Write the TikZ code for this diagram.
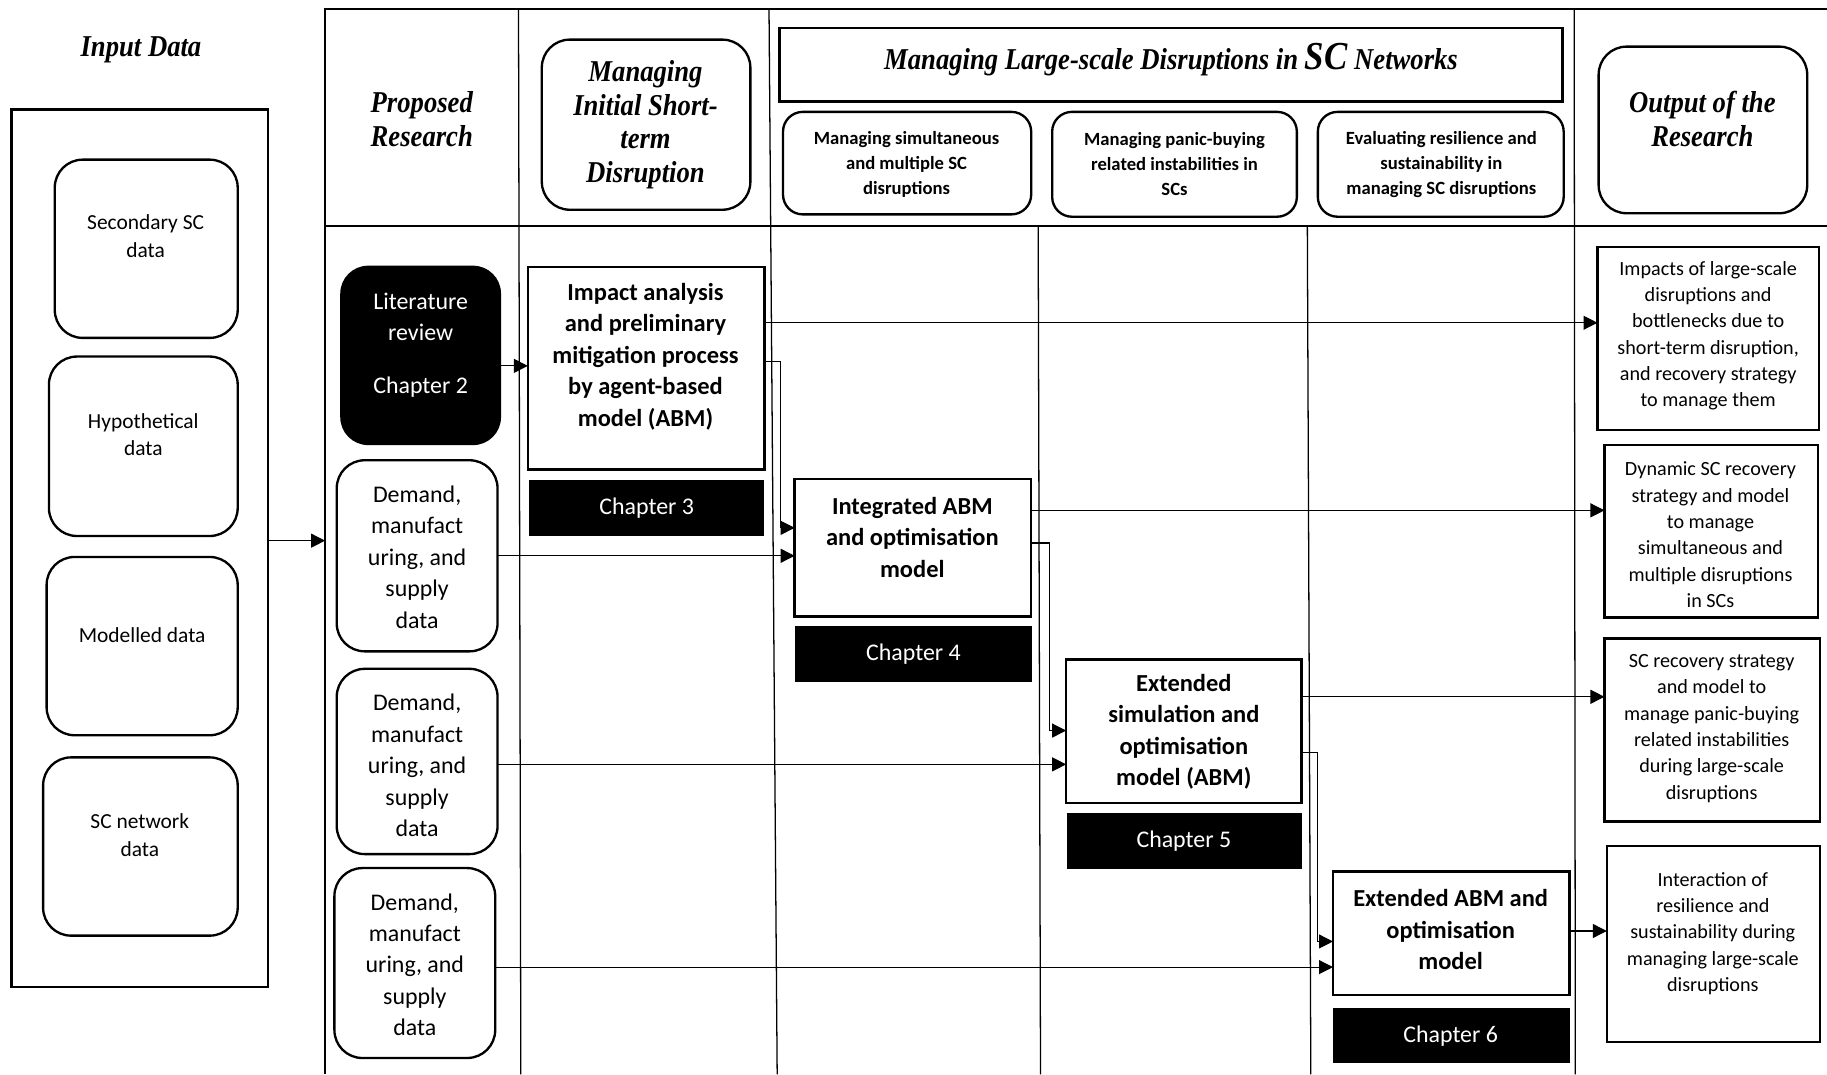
\documentclass[tikz,border=0pt]{standalone}
\usepackage{fontspec}
\setmainfont{Carlito}
\newfontfamily\headfont{Liberation Serif}[FakeStretch=0.88]
\usetikzlibrary{arrows.meta}

% box given by its top-left and bottom-right corners
\newcommand\BoxAt[6]{%
  \pgfmathsetmacro\bw{#5-#3}%
  \pgfmathsetmacro\bh{#6-#4}%
  \node[#2, minimum width=\bw pt, minimum height=\bh pt] (#1) at ({(#3+#5)/2},{(#4+#6)/2}) {};}

\tikzset{
  every node/.style={inner sep=0pt, outer sep=0pt},
  frameline/.style={line width=2pt},
  gridline/.style={line width=1.1pt},
  sbox/.style={draw, fill=white, line width=2pt},
  rbox/.style={draw, fill=white, line width=2pt, rounded corners=24pt},
  hbox/.style={draw, fill=white, line width=2pt, rounded corners=17pt},
  litbox/.style={fill=black, rounded corners=24pt},
  chap/.style={fill=black, text=white, font=\fontsize{20.5}{24}\selectfont},
  headtxt/.style={font=\headfont\bfseries\itshape\fontsize{26}{29}\selectfont, align=center},
  subtxt/.style={font=\bfseries\fontsize{16}{21.5}\selectfont, align=center},
  intxt/.style={font=\fontsize{18.4}{24}\selectfont, align=center},
  demtxt/.style={font=\fontsize{20.5}{27}\selectfont, align=center},
  modtxt/.style={font=\bfseries\fontsize{21}{27}\selectfont, align=center},
  outtxt/.style={font=\fontsize{17.3}{22.6}\selectfont, align=center},
  arr/.style={line width=1pt, -{Triangle[length=12pt,width=12pt]}},
}

\begin{document}
\begin{tikzpicture}[x=1pt,y=-1pt]
\useasboundingbox (0,0) rectangle (1568,922);

% swimlane frame and column rules
\draw[frameline] (279,922) -- (279,8) -- (1568,8);
\draw[gridline] (279,194) -- (1568,194);
\draw[gridline] (445,8) -- (447,922);
\draw[gridline] (660,8) -- (667,922);
\draw[gridline] (891,194) -- (893,922);
\draw[gridline] (1122,194) -- (1125,922);
\draw[gridline] (1351,8) -- (1352,922);

% input data column
\node[headtxt] (inTitle) at (121,43) {Input Data};
\BoxAt{inB}{sbox}{10}{94}{230}{847}
\BoxAt{secB}{rbox}{47}{137}{204}{290}
\node[intxt] (secT) at (125,203) {Secondary SC\\data};
\BoxAt{hypB}{rbox}{42}{306}{204}{460}
\node[intxt] (hypT) at (123,373) {Hypothetical\\data};
\BoxAt{modB}{rbox}{40}{478}{204}{631}
\node[intxt] (modT) at (122,545) {Modelled data};
\BoxAt{netB}{rbox}{37}{650}{204}{803}
\node[intxt] (netT) at (120,717) {SC network\\data};
\coordinate (frameIn) at (279,464);

% column headings
\node[headtxt] (propT) at (362,102) {Proposed\\Research};
\BoxAt{initB}{rbox}{465}{34}{644}{180}
\node[headtxt] (initT) at (554,107) {Managing\\Initial Short-\\term\\Disruption};
\BoxAt{largeB}{sbox}{669}{24}{1341}{87}
\node[headtxt] (largeT) at (1005,51) {Managing Large-scale Disruptions in {\fontsize{34}{34}\selectfont SC} Networks};
\BoxAt{subA}{hbox}{672}{96}{885}{184}
\node[subtxt] (subAT) at (778,141) {Managing simultaneous\\and multiple SC\\disruptions};
\BoxAt{subB}{hbox}{903}{96}{1113}{186}
\node[subtxt] (subBT) at (1008,141) {Managing panic-buying\\related instabilities in\\SCs};
\BoxAt{subC}{hbox}{1131}{96}{1342}{186}
\node[subtxt] (subCT) at (1237,141) {Evaluating resilience and\\sustainability in\\managing SC disruptions};
\BoxAt{outB}{rbox}{1372}{40}{1551}{183}
\node[headtxt] (outT) at (1461,102) {Output of the\\Research};

% proposed research column
\BoxAt{litB}{litbox}{292}{228}{430}{382}
\node[demtxt, text=white] (litT) at (361,296) {Literature\\review\\[18pt]Chapter 2};
\BoxAt{demA}{rbox}{289}{395}{427}{559}
\node[demtxt] (demAT) at (358,478) {Demand,\\manufact\\uring, and\\supply\\data};
\BoxAt{demB}{rbox}{289}{574}{427}{733}
\node[demtxt] (demBT) at (358,657) {Demand,\\manufact\\uring, and\\supply\\data};
\BoxAt{demC}{rbox}{287}{745}{425}{908}
\node[demtxt] (demCT) at (356,828) {Demand,\\manufact\\uring, and\\supply\\data};

% model boxes with chapter tags
\BoxAt{impB}{sbox}{453}{229}{656}{403}
\node[modtxt] (impT) at (554,306) {Impact analysis\\and preliminary\\mitigation process\\by agent-based\\model (ABM)};
\BoxAt{ch3}{chap}{454}{412}{656}{460}
\node[chap] (ch3T) at (555,436) {Chapter 3};

\BoxAt{intB}{sbox}{682}{411}{885}{529}
\node[modtxt] (intT) at (783,461) {Integrated ABM\\and optimisation\\model};
\BoxAt{ch4}{chap}{682}{537}{886}{585}
\node[chap] (ch4T) at (784,561) {Chapter 4};

\BoxAt{simB}{sbox}{915}{566}{1117}{689}
\node[modtxt] (simT) at (1016,628) {Extended\\simulation and\\optimisation\\model (ABM)};
\BoxAt{ch5}{chap}{916}{698}{1117}{746}
\node[chap] (ch5T) at (1016,722) {Chapter 5};

\BoxAt{extB}{sbox}{1144}{748}{1347}{854}
\node[modtxt] (extT) at (1245,798) {Extended ABM and\\optimisation\\model};
\BoxAt{ch6}{chap}{1144}{865}{1347}{912}
\node[chap] (ch6T) at (1245,889) {Chapter 6};

% research outputs
\BoxAt{outA}{sbox}{1371}{212}{1561}{369}
\node[outtxt] (outAT) at (1466,288) {Impacts of large-scale\\disruptions and\\bottlenecks due to\\short-term disruption,\\and recovery strategy\\to manage them};
\BoxAt{outBx}{sbox}{1377}{382}{1560}{530}
\node[outtxt] (outBT) at (1468,459) {Dynamic SC recovery\\strategy and model\\to manage\\simultaneous and\\multiple disruptions\\in SCs};
\BoxAt{outC}{sbox}{1377}{548}{1562}{705}
\node[outtxt] (outCT) at (1469,625) {SC recovery strategy\\and model to\\manage panic-buying\\related instabilities\\during large-scale\\disruptions};
\BoxAt{outD}{sbox}{1379}{726}{1562}{894}
\node[outtxt] (outDT) at (1470,801) {Interaction of\\resilience and\\sustainability during\\managing large-scale\\disruptions};

% connectors
\draw[arr] (inB.east |- frameIn) -- (frameIn);
\draw[arr] (litB.east |- 0,314) -- (impB.west |- 0,314);
\draw[arr] (impB.east |- 0,277) -- (outA.west |- 0,277);
\draw[arr] (impB.east |- 0,310) -- (670,310) -- (670,453) -- (intB.west |- 0,453);
\draw[arr] (demA.east |- 0,477) -- (intB.west |- 0,477);
\draw[arr] (intB.east |- 0,438) -- (outBx.west |- 0,438);
\draw[arr] (intB.east |- 0,466) -- (901,466) -- (901,627) -- (simB.west |- 0,627);
\draw[arr] (demB.east |- 0,656) -- (simB.west |- 0,656);
\draw[arr] (simB.east |- 0,598) -- (outC.west |- 0,598);
\draw[arr] (simB.east |- 0,646) -- (1131,646) -- (1131,808) -- (extB.west |- 0,808);
\draw[arr] (demC.east |- 0,830) -- (extB.west |- 0,830);
\draw[arr] (extB.east |- 0,799) -- (outD.west |- 0,799);
\end{tikzpicture}
\end{document}
